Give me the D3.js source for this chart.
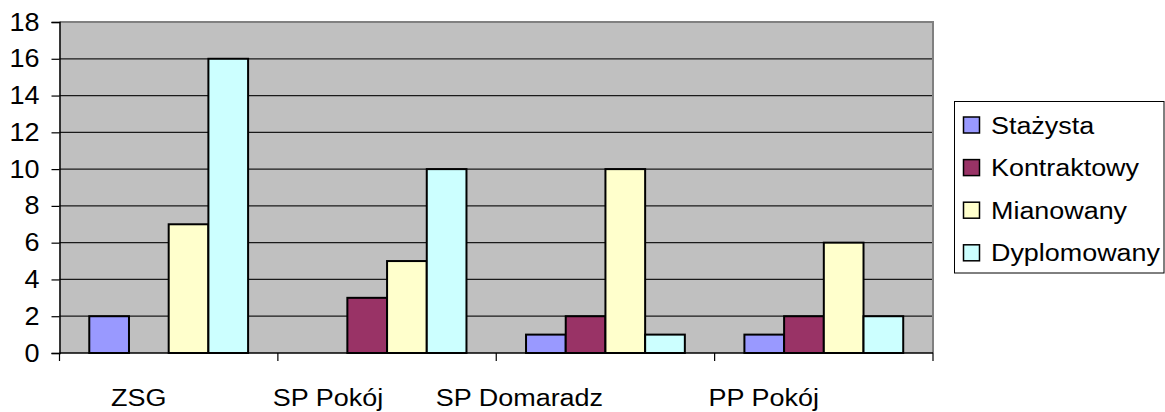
<!DOCTYPE html>
<html>
<head>
<meta charset="utf-8">
<script src="https://cdn.jsdelivr.net/npm/d3@7"></script>
<style>
  body { margin: 0; background: #fff; }
  svg { display: block; font-family: "Liberation Sans", Arial, sans-serif; }
</style>
</head>
<body>
<svg id="chart"></svg>
<script>
// Data
const categories = ["ZSG", "SP Pokój", "SP Domaradz", "PP Pokój"];
const series = ["Stażysta", "Kontraktowy", "Mianowany", "Dyplomowany"];
const stazysta = [2, 0, 1, 1];
const kontraktowy = [0, 3, 2, 2];
const mianowany = [7, 5, 10, 6];
const dyplomowany = [16, 10, 1, 2];
const yTicks = [0, 2, 4, 6, 8, 10, 12, 14, 16, 18];

const values = [stazysta, kontraktowy, mianowany, dyplomowany];
const colors = ["#9999ff", "#993366", "#ffffcc", "#ccffff"];

const width = 1165, height = 412;
const svg = d3.select("#chart").attr("width", width).attr("height", height);

// plot area
const plot = { left: 59.5, right: 933, top: 22, bottom: 353 };

const x0 = d3.scaleBand().domain(categories).range([plot.left, plot.right]);
const x1 = d3.scaleBand().domain(series).range([0, x0.bandwidth()]).paddingOuter(0.75);
const y = d3.scaleLinear().domain([0, 18]).range([plot.bottom, plot.top]);

// background
svg.append("rect")
    .attr("x", plot.left).attr("y", plot.top)
    .attr("width", plot.right - plot.left).attr("height", plot.bottom - plot.top)
    .attr("fill", "#c0c0c0");

// gridlines
svg.append("g").selectAll("line")
    .data(yTicks.filter(d => d > 0 && d < 18))
    .enter().append("line")
    .attr("x1", plot.left).attr("x2", plot.right)
    .attr("y1", d => y(d)).attr("y2", d => y(d))
    .attr("stroke", "#1a1a1a").attr("stroke-width", 1.2);

// top/right frame
svg.append("path")
    .attr("d", `M${plot.left},${plot.top}H${plot.right}V${plot.bottom}`)
    .attr("fill", "none").attr("stroke", "#808080").attr("stroke-width", 2);

// bars
const rows = categories.map((c, i) => ({ cat: c, vals: series.map((s, j) => ({ s, j, v: values[j][i] })) }));
svg.append("g").selectAll("g")
    .data(rows)
    .enter().append("g")
    .attr("transform", d => `translate(${x0(d.cat)},0)`)
    .selectAll("rect")
    .data(d => d.vals.filter(e => e.v > 0))
    .enter().append("rect")
    .attr("x", d => x1(d.s))
    .attr("y", d => y(d.v))
    .attr("width", x1.bandwidth())
    .attr("height", d => y(0) - y(d.v))
    .attr("fill", d => colors[d.j])
    .attr("stroke", "#000").attr("stroke-width", 2);

// y axis
const yAxis = svg.append("g")
    .attr("transform", `translate(${plot.left},0)`)
    .call(d3.axisLeft(y).tickValues(yTicks).tickSize(8).tickPadding(12));
yAxis.select(".domain").attr("stroke", "#000").attr("stroke-width", 1.5);
yAxis.selectAll(".tick line").attr("stroke", "#000").attr("stroke-width", 1.2);
yAxis.selectAll(".tick text")
    .attr("font-size", 25).attr("fill", "#000")
    .attr("font-family", "Liberation Sans, Arial, sans-serif")
    .attr("transform", "scale(1.08,1)")
    .attr("x", -20 / 1.08);

// x axis
const xAxisG = svg.append("g").attr("transform", `translate(0,${plot.bottom})`);
xAxisG.append("line")
    .attr("x1", plot.left).attr("x2", plot.right)
    .attr("stroke", "#000").attr("stroke-width", 1.5);
const bounds = categories.map(c => x0(c)).concat([x0.range()[1]]);
xAxisG.selectAll(".xt")
    .data(bounds)
    .enter().append("line")
    .attr("x1", d => d).attr("x2", d => d)
    .attr("y1", 0).attr("y2", 8)
    .attr("stroke", "#000").attr("stroke-width", 1.2);

// category labels (Excel export placed them left of band centres)
const labelNudge = [-30, -59, -86, -60];
svg.append("g").selectAll("text")
    .data(categories)
    .enter().append("text")
    .attr("transform", (d, i) => `translate(${x0(d) + x0.bandwidth() / 2 + labelNudge[i]},406) scale(1.11,1)`)
    .attr("text-anchor", "middle")
    .attr("font-size", 24.3)
    .attr("fill", "#000")
    .text(d => d);

// legend
const legend = svg.append("g").attr("transform", "translate(954.5,101.5)");
legend.append("rect")
    .attr("width", 209.5).attr("height", 171.5)
    .attr("fill", "#fff").attr("stroke", "#000").attr("stroke-width", 1);
const item = legend.selectAll(".item")
    .data(series)
    .enter().append("g")
    .attr("transform", (d, i) => `translate(0,${15.5 + i * 42.6})`);
item.append("rect")
    .attr("x", 9).attr("y", 0)
    .attr("width", 16).attr("height", 16)
    .attr("fill", (d, i) => colors[i])
    .attr("stroke", "#000").attr("stroke-width", 1.5);
item.append("text")
    .attr("transform", "translate(36.5,16.5) scale(1.155,1)")
    .attr("font-size", 23.3)
    .attr("fill", "#000")
    .text(d => d);
</script>
</body>
</html>
